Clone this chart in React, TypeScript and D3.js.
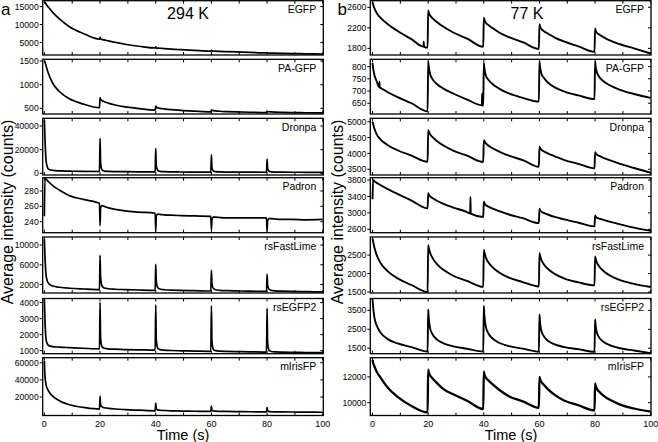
import React from "react";
import * as d3 from "d3";

// ---------- shared axes ----------
const TIMES = [
  0, 0.2, 0.7, 1.5, 3, 5.5, 9, 14, 19.8,
  20, 20.2, 20.7, 21.5, 23, 25.5, 29, 34, 39.8,
  40, 40.2, 40.7, 41.5, 43, 45.5, 49, 54, 59.8,
  60, 60.2, 60.7, 61.5, 63, 65.5, 69, 74, 79.8,
  80, 80.2, 80.7, 81.5, 83, 85.5, 89, 94, 100,
];
const X_TICKS = [0, 10, 20, 30, 40, 50, 60, 70, 80, 90, 100];
const X_TICK_LABELS = [0, 20, 40, 60, 80, 100];
const PROTEINS = ["EGFP", "PA-GFP", "Dronpa", "Padron", "rsFastLime", "rsEGFP2", "mIrisFP"];

// ---------- 294 K ----------
const EGFP_294 = [
  16400, 16200, 15600, 14800, 13400, 11500, 9400, 7500, 5900,
  6400, 6000, 5850, 5700, 5450, 5000, 4500, 3950, 3450,
  3800, 3500, 3430, 3380, 3300, 3150, 2980, 2780, 2600,
  2800, 2620, 2590, 2560, 2510, 2440, 2350, 2220, 2080,
  2150, 2070, 2050, 2030, 2000, 1960, 1900, 1830, 1770,
];
const PAGFP_294 = [
  1500, 1480, 1380, 1230, 1030, 850, 700, 590, 515,
  725, 690, 665, 640, 610, 570, 530, 495, 460,
  545, 525, 510, 500, 488, 472, 456, 440, 425,
  470, 458, 450, 445, 438, 431, 424, 417, 410,
  442, 432, 427, 424, 420, 416, 411, 406, 402,
];
const DRONPA_294 = [
  45000, 30000, 9000, 3500, 2400, 2000, 1800, 1600, 1500,
  29500, 9000, 3000, 1900, 1600, 1450, 1350, 1250, 1200,
  21000, 6500, 2500, 1600, 1350, 1200, 1100, 1050, 1000,
  15500, 5000, 2000, 1350, 1150, 1050, 1000, 950, 900,
  12000, 4000, 1700, 1200, 1050, 950, 900, 850, 800,
];
const PADRON_294 = [
  247, 296, 295, 292, 287, 281, 274, 269, 264,
  235, 258, 261, 260, 258, 256, 254, 252.5, 251,
  228, 247, 250, 249.5, 249, 248.5, 248, 247.5, 247,
  230, 243, 246, 246, 245.5, 245, 245, 245, 245,
  228, 241, 244, 244, 243.5, 243, 243, 242.5, 243,
];
const RSFASTLIME_294 = [
  11200, 8000, 3500, 2200, 1700, 1450, 1250, 1100, 980,
  7900, 3500, 1700, 1300, 1150, 1050, 980, 900, 840,
  6100, 2700, 1400, 1100, 950, 880, 820, 760, 700,
  4900, 2200, 1200, 950, 830, 760, 710, 660, 610,
  4100, 1900, 1050, 830, 720, 660, 610, 560, 500,
];
const RSEGFP2_294 = [
  4200, 3000, 1600, 1320, 1250, 1220, 1190, 1150, 1110,
  4000, 1800, 1250, 1150, 1110, 1090, 1070, 1050, 1030,
  3850, 1700, 1150, 1060, 1030, 1010, 990, 975, 960,
  3790, 1600, 1080, 1000, 970, 955, 940, 925, 910,
  3640, 1500, 1020, 950, 920, 905, 895, 885, 875,
];
const MIRISFP_294 = [
  62000, 45000, 33000, 27000, 21000, 15500, 11000, 8000, 6000,
  21000, 11000, 8500, 7600, 6900, 6100, 5400, 4700, 4000,
  13000, 6500, 5000, 4600, 4300, 4000, 3700, 3450, 3200,
  9500, 4800, 3800, 3500, 3350, 3200, 3050, 2900, 2700,
  8000, 3900, 3100, 2900, 2800, 2700, 2600, 2450, 2300,
];

// ---------- 77 K ----------
const EGFP_77 = [
  2700, 2660, 2580, 2490, 2390, 2270, 2140, 1980, 1815,
  2540, 2500, 2440, 2390, 2320, 2220, 2110, 1990, 1830,
  2400, 2360, 2300, 2260, 2200, 2110, 2020, 1920, 1790,
  2270, 2230, 2180, 2140, 2090, 2010, 1930, 1840, 1735,
  2190, 2150, 2100, 2070, 2020, 1950, 1880, 1800, 1700,
];
const PAGFP_77 = [
  815, 795, 765, 740, 712, 695, 675, 650, 617,
  820, 800, 770, 750, 730, 710, 690, 665, 640,
  815, 795, 765, 748, 730, 710, 690, 672, 657,
  820, 800, 772, 755, 735, 715, 698, 682, 667,
  820, 800, 775, 758, 740, 722, 705, 688, 672,
];
const DRONPA_77 = [
  5000, 4930, 4780, 4600, 4430, 4260, 4100, 3930, 3735,
  4730, 4690, 4600, 4520, 4400, 4250, 4090, 3930, 3730,
  4420, 4390, 4320, 4260, 4170, 4060, 3930, 3790, 3580,
  4210, 4180, 4120, 4070, 4000, 3910, 3790, 3670, 3530,
  4040, 4010, 3960, 3920, 3860, 3780, 3670, 3540, 3390,
];
const PADRON_77 = [
  3330, 3800, 3770, 3730, 3670, 3580, 3460, 3300, 3110,
  3480, 3450, 3400, 3360, 3300, 3220, 3130, 3020, 2900,
  3270, 3240, 3190, 3160, 3110, 3040, 2960, 2870, 2750,
  3100, 3070, 3030, 3000, 2960, 2900, 2840, 2760, 2670,
  2940, 2910, 2880, 2860, 2830, 2780, 2720, 2640, 2560,
];
const RSFASTLIME_77 = [
  2950, 2870, 2700, 2500, 2270, 2060, 1870, 1690, 1500,
  2770, 2700, 2560, 2430, 2270, 2100, 1940, 1800, 1640,
  2640, 2580, 2440, 2320, 2180, 2030, 1890, 1770, 1650,
  2550, 2490, 2370, 2260, 2130, 1990, 1860, 1760, 1680,
  2460, 2400, 2290, 2190, 2070, 1940, 1820, 1720, 1635,
];
const RSEGFP2_77 = [
  4100, 3700, 3100, 2700, 2300, 1980, 1750, 1560, 1320,
  3550, 3100, 2550, 2250, 1980, 1760, 1600, 1470, 1320,
  3730, 3250, 2650, 2320, 2030, 1790, 1610, 1480, 1320,
  3290, 2900, 2420, 2150, 1900, 1700, 1560, 1450, 1310,
  3020, 2700, 2300, 2060, 1840, 1650, 1500, 1380, 1240,
];
const MIRISFP_77 = [
  13300, 13100, 12800, 12400, 11900, 11150, 10450, 9750, 9250,
  12550, 12350, 12100, 11900, 11550, 11050, 10650, 10150, 9500,
  12400, 12200, 11950, 11750, 11450, 11000, 10500, 10100, 9600,
  12000, 11850, 11600, 11400, 11050, 10600, 10150, 9800, 9400,
  11500, 11300, 11050, 10850, 10550, 10200, 9850, 9550, 9300,
];

// isolated glitches (time, value)
const EGFP_77_GLITCH = [[18.3, 1835], [18.4, 1930], [18.5, 1830]];
const PAGFP_77_GLITCH = [[2.4, 716], [2.5, 738], [2.6, 714], [39.3, 642], [39.4, 690], [39.5, 641]];
const PADRON_77_GLITCH = [[35.1, 2985], [35.2, 3390], [35.3, 2980]];

// y tick values per panel
const TICKS_294 = [
  [5000, 10000, 15000], [500, 1000, 1500], [0, 20000, 40000], [240, 260, 280],
  [2000, 6000, 10000], [1000, 2000, 3000, 4000], [20000, 40000, 60000],
];
const TICKS_77 = [
  [1800, 2200, 2600], [650, 700, 750, 800], [3500, 4000, 4500, 5000], [2600, 3000, 3400, 3800],
  [1500, 2000, 2500], [1500, 2500, 3500], [10000, 12000],
];
// y extents per panel
const DOMAIN_294 = [
  [1500, 16650], [380, 1536], [-1440, 46500], [225.7, 297.3],
  [290, 11630], [810, 4253], [-1500, 65900],
];
const DOMAIN_77 = [
  [1671, 2729], [606, 830], [3320, 5107], [2517, 3856],
  [1473, 2990], [1210, 4127], [9008, 13484],
];

const SERIES_294 = [EGFP_294, PAGFP_294, DRONPA_294, PADRON_294, RSFASTLIME_294, RSEGFP2_294, MIRISFP_294];
const SERIES_77 = [EGFP_77, PAGFP_77, DRONPA_77, PADRON_77, RSFASTLIME_77, RSEGFP2_77, MIRISFP_77];
const GLITCH_294: number[][][] = [[], [], [], [], [], [], []];
const GLITCH_77: number[][][] = [EGFP_77_GLITCH, PAGFP_77_GLITCH, [], PADRON_77_GLITCH, [], [], []];

// ---------- layout ----------
const W = 658;
const H = 442;
const TOPS = [0.7, 59.3, 118.3, 177.7, 237, 298.5, 357.7];
const BOTTOMS = [55, 114, 175, 232.7, 293, 353.7, 415.5];
const COLS = [
  { x0: 42.7, x1: 323.3, dom: [-0.6, 100.2], sw: 1.7 },
  { x0: 370.3, x1: 651, dom: [-0.8, 100.1], sw: 1.9 },
];
const FONT = "'Liberation Sans', Arial, sans-serif";

function Panel({ c, r, values, glitch, domain, ticks, name, sw }: any) {
  const col = COLS[c];
  const top = TOPS[r];
  const bottom = BOTTOMS[r];
  const x = d3.scaleLinear().domain(col.dom).range([col.x0, col.x1]);
  const y = d3.scaleLinear().domain(domain).range([bottom, top]);
  const pts: number[][] = TIMES.map((t, i) => [t, values[i]]).concat(glitch);
  pts.sort((a, b) => a[0] - b[0]);
  const line = d3
    .line<number[]>()
    .x((d) => x(d[0]))
    .y((d) => y(d[1]))
    .curve(d3.curveMonotoneX);
  const clipId = `clip-${c}-${r}`;
  const last = r === 6;
  return (
    <g>
      <defs>
        <clipPath id={clipId}>
          <rect x={col.x0} y={top} width={col.x1 - col.x0} height={bottom - top} />
        </clipPath>
      </defs>
      <path d={line(pts) || ""} fill="none" stroke="#000" strokeWidth={sw} strokeLinejoin="round" clipPath={`url(#${clipId})`} />
      <rect x={col.x0} y={top} width={col.x1 - col.x0} height={bottom - top} fill="none" stroke="#000" strokeWidth={1.3} />
      {X_TICKS.map((t) => (
        <g key={t}>
          <line x1={x(t)} x2={x(t)} y1={top} y2={top + 3} stroke="#000" strokeWidth={1} />
          <line x1={x(t)} x2={x(t)} y1={bottom} y2={bottom - 3} stroke="#000" strokeWidth={1} />
        </g>
      ))}
      {ticks.map((v: number) => (
        <g key={v}>
          <line x1={col.x0} x2={col.x0 - 3} y1={y(v)} y2={y(v)} stroke="#000" strokeWidth={1} />
          <line x1={col.x1} x2={col.x1 - 3} y1={y(v)} y2={y(v)} stroke="#000" strokeWidth={1} />
          <text x={col.x0 - 4} y={y(v) + 3.1} textAnchor="end" fontSize={8.6} fontFamily={FONT}>
            {d3.format("d")(v)}
          </text>
        </g>
      ))}
      <text x={col.x1 - 7} y={top + 12.5} textAnchor="end" fontSize={10.5} fontFamily={FONT}>
        {name}
      </text>
      {last &&
        X_TICK_LABELS.map((t) => (
          <text key={t} x={x(t)} y={bottom + 11} textAnchor="middle" fontSize={9} fontFamily={FONT}>
            {t}
          </text>
        ))}
    </g>
  );
}

export default function App() {
  return (
    <svg
      width={W}
      height={H}
      style={{ position: "absolute", left: 0, top: 0, background: "#fff" }}
      xmlns="http://www.w3.org/2000/svg"
    >
      <rect x={0} y={0} width={W} height={H} fill="#fff" />
      {PROTEINS.map((name, r) => (
        <Panel key={"a" + r} c={0} r={r} values={SERIES_294[r]} glitch={GLITCH_294[r]} domain={DOMAIN_294[r]} ticks={TICKS_294[r]} name={name} sw={COLS[0].sw} />
      ))}
      {PROTEINS.map((name, r) => (
        <Panel key={"b" + r} c={1} r={r} values={SERIES_77[r]} glitch={GLITCH_77[r]} domain={DOMAIN_77[r]} ticks={TICKS_77[r]} name={name} sw={r === 6 ? 2.3 : COLS[1].sw} />
      ))}
      <text x={1} y={15} fontSize={17} fontFamily={FONT}>a</text>
      <text x={337.5} y={15} fontSize={17} fontFamily={FONT}>b</text>
      <text x={188} y={18.5} textAnchor="middle" fontSize={16} fontFamily={FONT}>294 K</text>
      <text x={527} y={18.5} textAnchor="middle" fontSize={16} fontFamily={FONT}>77 K</text>
      <text transform="translate(13,212) rotate(-90)" textAnchor="middle" fontSize={16} fontFamily={FONT}>
        Average intensity (counts)
      </text>
      <text transform="translate(343,212) rotate(-90)" textAnchor="middle" fontSize={16} fontFamily={FONT}>
        Average intensity (counts)
      </text>
      <text x={183} y={439.5} textAnchor="middle" fontSize={14.5} fontFamily={FONT}>Time (s)</text>
      <text x={511} y={439.5} textAnchor="middle" fontSize={14.5} fontFamily={FONT}>Time (s)</text>
    </svg>
  );
}
